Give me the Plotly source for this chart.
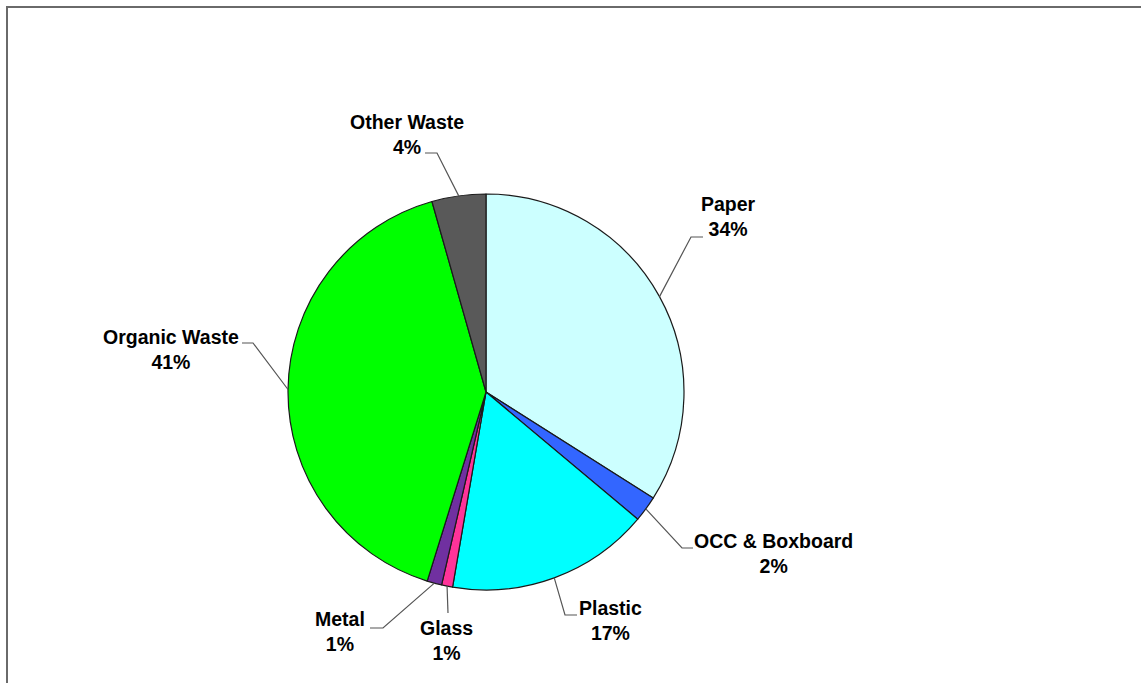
import math
import plotly.graph_objects as go

# ---- data ----
categories = ["Paper", "OCC & Boxboard", "Plastic", "Glass", "Metal", "Organic Waste", "Other Waste"]
shares = [34.0, 2.1, 16.6, 0.9, 1.2, 40.8, 4.4]
colors = ["#CCFFFF", "#3366FF", "#00FFFF", "#FF3399", "#7030A0", "#00FF00", "#595959"]

# ---- layout constants (pixels) ----
W, H = 1141, 683
CX, CY, R = 486, 392, 198
# label block centre, elbow point, leader end point
label_layout = {
    "Paper":          dict(text=(728, 217), elbow=(691, 237), end=(703, 237)),
    "OCC & Boxboard": dict(text=(773, 553), elbow=(682, 548), end=(693, 548)),
    "Plastic":        dict(text=(610, 620), elbow=(565, 615), end=(577, 615)),
    "Glass":          dict(text=(446, 640), elbow=(448, 613), end=(448, 613)),
    "Metal":          dict(text=(340, 631), elbow=(383, 628), end=(370, 628)),
    "Organic Waste":  dict(text=(171, 349), elbow=(253, 343), end=(242, 343)),
    "Other Waste":    dict(text=(407, 135), elbow=(437, 153), end=(425, 153)),
}


def px(x, y):
    return x / W, 1 - y / H


fig = go.Figure(go.Pie(
    labels=categories,
    values=shares,
    sort=False,
    direction="clockwise",
    rotation=0,
    marker=dict(colors=colors, line=dict(color="#1a1a1a", width=1.2)),
    textinfo="none",
    hoverinfo="label+percent",
    showlegend=False,
    domain=dict(x=[(CX - R) / W, (CX + R) / W], y=[(H - CY - R) / H, (H - CY + R) / H]),
))

shapes = []
annotations = []
total = sum(shares)
cum = 0.0
for name, v in zip(categories, shares):
    mid = (cum + v / 2) / total * 2 * math.pi
    cum += v
    ax = CX + R * math.sin(mid)
    ay = CY - R * math.cos(mid)
    lay = label_layout[name]
    ex, ey = lay["elbow"]
    nx, ny = lay["end"]
    x0, y0 = px(ax, ay)
    x1, y1 = px(ex, ey)
    x2, y2 = px(nx, ny)
    shapes.append(dict(type="path", xref="paper", yref="paper",
                       path=f"M {x0} {y0} L {x1} {y1} L {x2} {y2}",
                       line=dict(color="#555555", width=1.2)))
    tx, ty = px(*lay["text"])
    annotations.append(dict(
        x=tx, y=ty, xref="paper", yref="paper", xanchor="center", yanchor="middle",
        text=f"{name}<br>{round(v / total * 100)}%", showarrow=False, align="center",
        font=dict(family="Liberation Sans, Arial", size=19.5, color="#000000", weight="bold"),
    ))

# outer frame
shapes.append(dict(type="rect", xref="paper", yref="paper",
                   x0=7 / W, y0=-0.1, x1=1.1, y1=1 - 7 / H,
                   line=dict(color="#6a6a6a", width=2), fillcolor="rgba(0,0,0,0)"))

fig.update_layout(
    width=W, height=H,
    margin=dict(l=0, r=0, t=0, b=0),
    paper_bgcolor="white", plot_bgcolor="white",
    shapes=shapes, annotations=annotations,
)

fig.write_html("out.html", config={"displayModeBar": False},
               post_script="document.body.style.margin='0';document.body.style.overflow='hidden';")
